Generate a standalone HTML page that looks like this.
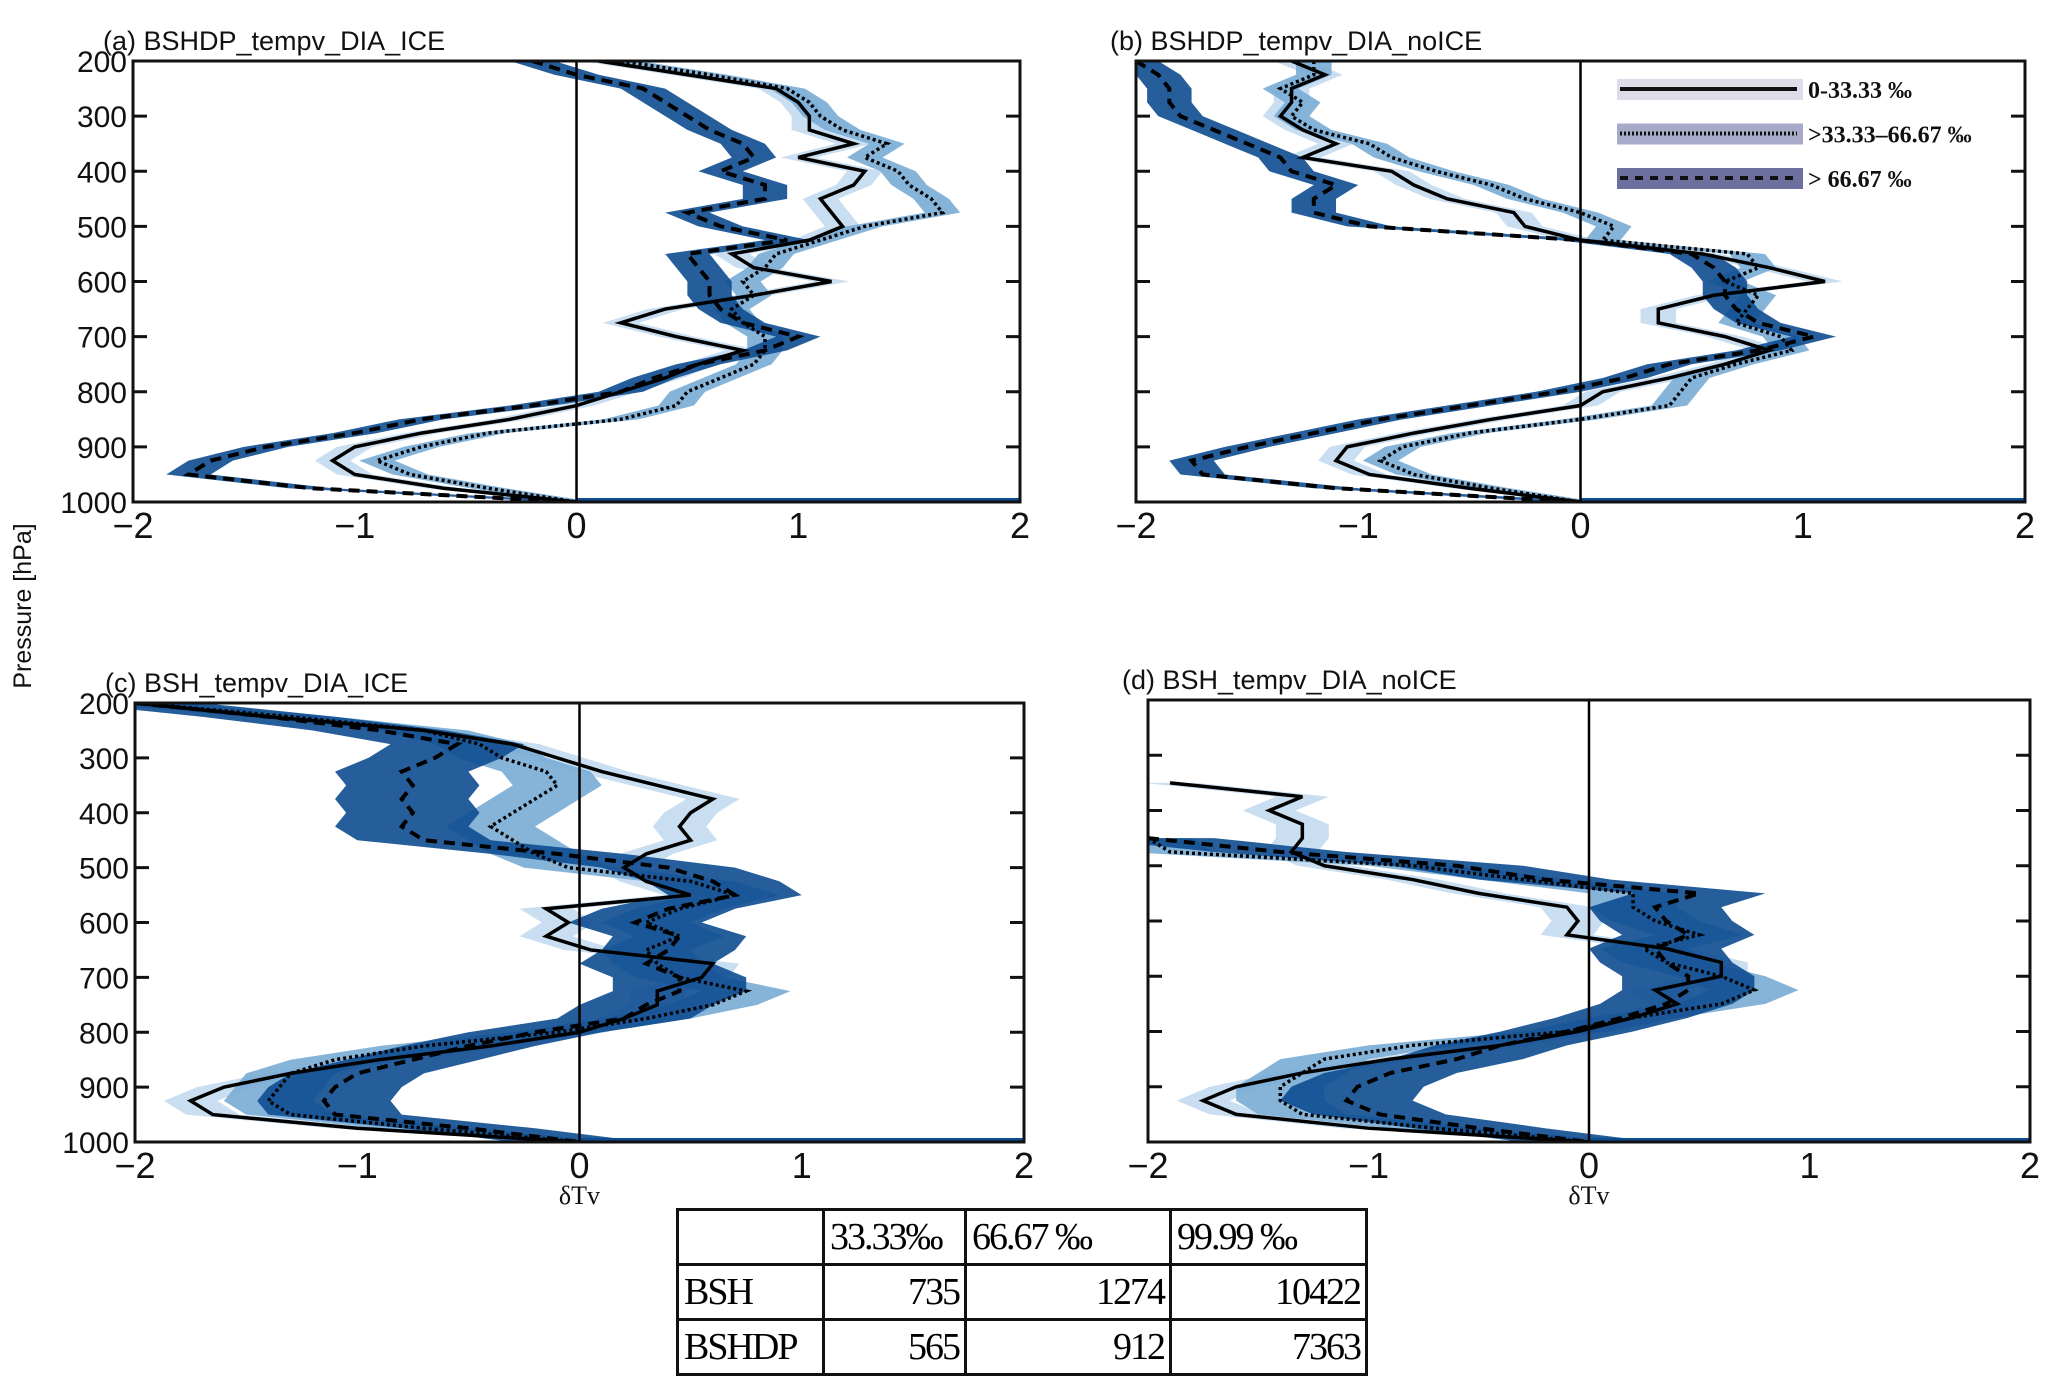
<!DOCTYPE html>
<html><head><meta charset="utf-8"><style>
body{margin:0;background:#fff;width:2067px;height:1389px;overflow:hidden;font-family:"Liberation Sans",sans-serif}
#tbl{position:absolute;left:676px;top:1208px;border-collapse:collapse;font-family:"Liberation Serif",serif;font-size:38px;table-layout:fixed;width:689px}
#tbl td{border:3px solid #111;height:52px;padding:0 5px;letter-spacing:-2px;overflow:hidden;white-space:nowrap}
</style></head><body>
<svg id="chart" width="2067" height="1389" style="position:absolute;left:0;top:0"></svg>
<table id="tbl">
<colgroup><col style="width:146px"><col style="width:142px"><col style="width:205px"><col style="width:196px"></colgroup>
<tr><td></td><td>33.33‰</td><td>66.67 ‰</td><td>99.99 ‰</td></tr>
<tr><td>BSH</td><td style="text-align:right">735</td><td style="text-align:right">1274</td><td style="text-align:right">10422</td></tr>
<tr><td>BSHDP</td><td style="text-align:right">565</td><td style="text-align:right">912</td><td style="text-align:right">7363</td></tr>
</table>
<script>
const pressure=[200,225,250,275,300,325,350,375,400,425,450,475,500,525,550,575,600,625,650,675,700,725,750,775,800,825,850,875,900,925,950,975,1000];
const xTicks=[-2,-1,0,1,2];
const yTicks=[200,300,400,500,600,700,800,900,1000];
const N=null;
const aSolid=[0.1,0.5,0.9,1.0,1.05,1.05,1.25,1.0,1.3,1.25,1.1,1.15,1.2,1.05,0.7,0.8,1.15,0.8,0.4,0.2,0.45,0.75,0.55,0.4,0.2,0.0,-0.3,-0.7,-1.0,-1.1,-1.0,-0.6,0];
const aDotted=[0.2,0.6,0.95,1.05,1.1,1.2,1.4,1.3,1.45,1.5,1.6,1.65,1.3,1.1,0.9,0.85,0.75,0.8,0.7,0.75,0.85,0.85,0.8,0.65,0.5,0.45,0.2,-0.4,-0.7,-0.9,-0.75,-0.4,0];
const aDashed=[-0.2,0.0,0.3,0.4,0.5,0.6,0.75,0.8,0.65,0.85,0.85,0.5,0.65,0.95,0.5,0.55,0.6,0.6,0.65,0.75,1.0,0.85,0.55,0.35,0.2,-0.2,-0.7,-1.0,-1.4,-1.65,-1.75,-1.2,0];
const bSolid=[-1.3,-1.15,-1.3,-1.3,-1.35,-1.25,-1.1,-1.25,-0.85,-0.75,-0.6,-0.3,-0.25,0.0,0.55,0.85,1.1,0.6,0.35,0.35,0.65,0.85,0.65,0.4,0.1,0.0,-0.4,-0.75,-1.05,-1.1,-0.95,-0.5,0];
const bDotted=[-1.2,-1.2,-1.35,-1.25,-1.3,-1.2,-0.95,-0.85,-0.65,-0.4,-0.25,0.0,0.15,0.1,0.75,0.8,0.65,0.8,0.75,0.7,0.9,0.95,0.7,0.5,0.45,0.4,0.0,-0.5,-0.8,-0.9,-0.75,-0.4,0];
const bDashed=[-2.0,-1.9,-1.85,-1.85,-1.8,-1.65,-1.5,-1.35,-1.3,-1.1,-1.2,-1.2,-0.95,0.0,0.5,0.6,0.65,0.65,0.7,0.8,1.05,0.8,0.4,0.2,-0.1,-0.5,-0.9,-1.2,-1.5,-1.75,-1.7,-1.1,0];
const cSolid=[-2.0,-1.4,-0.7,-0.3,-0.1,0.1,0.35,0.6,0.5,0.45,0.5,0.3,0.2,0.3,0.5,-0.15,-0.05,-0.15,0.05,0.6,0.55,0.35,0.35,0.2,0.0,-0.4,-0.9,-1.3,-1.6,-1.75,-1.65,-1.0,0];
const cDotted=[-2.0,-1.3,-0.7,-0.45,-0.35,-0.15,-0.1,-0.2,-0.3,-0.4,-0.3,-0.2,-0.05,0.5,0.7,0.45,0.3,0.45,0.3,0.35,0.45,0.75,0.6,0.3,-0.1,-0.7,-1.1,-1.3,-1.35,-1.4,-1.3,-0.7,0];
const cDashed=[-2.0,-1.4,-0.9,-0.55,-0.65,-0.8,-0.75,-0.8,-0.75,-0.8,-0.7,-0.1,0.4,0.6,0.7,0.4,0.25,0.45,0.4,0.3,0.45,0.45,0.3,0.2,-0.2,-0.5,-0.75,-1.0,-1.1,-1.15,-1.1,-0.5,0];
const dSolid=[N,N,N,N,N,N,-1.9,-1.3,-1.45,-1.3,-1.3,-1.35,-1.2,-0.8,-0.5,-0.1,-0.05,-0.1,0.35,0.6,0.6,0.3,0.4,0.2,-0.05,-0.4,-0.9,-1.3,-1.6,-1.75,-1.6,-1.0,0];
const dDotted=[N,N,N,N,N,N,N,N,N,N,-2.0,-1.9,-0.8,-0.3,0.2,0.2,0.3,0.5,0.25,0.35,0.6,0.75,0.6,0.2,-0.1,-0.8,-1.2,-1.3,-1.4,-1.4,-1.3,-0.7,0];
const dDashed=[N,N,N,N,N,N,N,N,N,N,-2.0,-1.4,-0.6,-0.2,0.5,0.3,0.35,0.45,0.3,0.35,0.45,0.45,0.35,0.15,-0.1,-0.4,-0.6,-0.9,-1.05,-1.1,-0.95,-0.5,0];
const bandSolid=[0.08,0.08,0.12,0.12];
const bandDotted=[0.08,0.08,0.2,0.2];
const bandDashed=[0.1,0.1,0.3,0.3];
const panelTitles=["(a) BSHDP_tempv_DIA_ICE","(b) BSHDP_tempv_DIA_noICE","(c) BSH_tempv_DIA_ICE","(d) BSH_tempv_DIA_noICE"];
const legendLabels=["0-33.33 ‰",">33.33–66.67 ‰","> 66.67 ‰"];

const svg=document.getElementById('chart');const NS='http://www.w3.org/2000/svg';
function mk(t,a,p){const e=document.createElementNS(NS,t);for(const k in a)e.setAttribute(k,a[k]);(p||svg).appendChild(e);return e;}
const boxes=[{x0:133,x1:1020,y0:61,y1:502},{x0:1136,x1:2025,y0:61,y1:502},{x0:135,x1:1024,y0:703,y1:1142},{x0:1148,x1:2030,y0:700,y1:1142}];
const series=[[aSolid,aDotted,aDashed],[bSolid,bDotted,bDashed],[cSolid,cDotted,cDashed],[dSolid,dDotted,dDashed]];
const bandColors=["#c3daee","#79acd5","#0e4c91"];
const dashes=["","3,3","11,7"];
const widths=[3.5,3.5,4];
boxes.forEach((b,i)=>{
  const sx=v=>b.x0+(v+2)/4*(b.x1-b.x0);
  const sy=p=>b.y0+(p-200)/800*(b.y1-b.y0);
  const g=mk('g',{});
  
  
  const cp=mk('clipPath',{id:'cp'+i},g);mk('rect',{x:b.x0,y:b.y0,width:b.x1-b.x0,height:b.y1-b.y0},cp);
  const t=mk('text',{x:b.x0-30+(i%2?4:0),y:b.y0-11,'font-size':27,fill:'#111'},g);t.textContent=panelTitles[i];
  
  const plot=mk('g',{'clip-path':'url(#cp'+i+')'},g);
  const bands=[bandSolid,bandDotted,bandDashed];
  [0,1,2].forEach(k=>{
    const arr=series[i][k];const w=bands[k][i];
    const L=[],R=[];
    arr.forEach((v,j)=>{if(v===null)return;L.push(sx(v-w)+','+sy(pressure[j]));R.unshift(sx(v+w)+','+sy(pressure[j]));});
    const bd=mk('polygon',{points:L.concat(R).join(' '),fill:bandColors[k],opacity:0.9},plot);
    
  });
  [0,1,2].forEach(k=>{
    const arr=series[i][k];const pts=[];
    arr.forEach((v,j)=>{if(v!==null)pts.push(sx(v)+','+sy(pressure[j]));});
    const ln=mk('polyline',{points:pts.join(' '),fill:'none',stroke:'#000','stroke-width':widths[k],'stroke-dasharray':dashes[k]},plot);
    
  });
  mk('line',{x1:sx(0),x2:sx(2),y1:b.y1-2,y2:b.y1-2,stroke:'#0e4c91','stroke-width':4},plot);
  const z=mk('line',{x1:sx(0),x2:sx(0),y1:b.y0,y2:b.y1,stroke:'#000','stroke-width':2.5},g);
  
  const fr=mk('rect',{x:b.x0,y:b.y0,width:b.x1-b.x0,height:b.y1-b.y0,fill:'none',stroke:'#111','stroke-width':3},g);
  
  yTicks.forEach(p=>{
    mk('line',{x1:b.x0,x2:b.x0+14,y1:sy(p),y2:sy(p),stroke:'#111','stroke-width':3},g);
    mk('line',{x1:b.x1-14,x2:b.x1,y1:sy(p),y2:sy(p),stroke:'#111','stroke-width':3},g);
    if(i%2==0){const tl=mk('text',{x:b.x0-6,y:sy(p)+11,'font-size':30,'text-anchor':'end',fill:'#111'},g);tl.textContent=p;
      }
  });
  xTicks.forEach(v=>{
    const tl=mk('text',{x:sx(v),y:b.y1+36,'font-size':36,'text-anchor':'middle',fill:'#111'},g);tl.textContent=(v<0?'\u2212':'')+Math.abs(v);
    
  });
  if(i>=2){const xl=mk('text',{x:sx(0),y:b.y1+62,'font-size':26,'text-anchor':'middle','font-family':'Liberation Serif, serif',fill:'#111'},g);xl.textContent='δTv';
    }
});
const yt=mk('text',{x:0,y:0,'font-size':25,'text-anchor':'middle',transform:'translate(31,606) rotate(-90)',fill:'#111'});
yt.textContent='Pressure [hPa]';

const legFill=["#dcdde9","#a8aac9","#6d6f9e"];
legendLabels.forEach((s,k)=>{
  const y0=79+k*44.5;
  const g=mk('g',{});
  
  mk('rect',{x:1617,y:y0,width:186,height:21,fill:legFill[k]},g);
  mk('line',{x1:1620,x2:1797,y1:y0+10,y2:y0+10,stroke:'#111','stroke-width':4,'stroke-dasharray':['','2,2','8,7'][k]},g);
  const t=mk('text',{x:1808,y:y0+19,'font-size':24,'font-weight':'bold','font-family':'Liberation Serif, serif',fill:'#111'},g);t.textContent=s;
});
</script>
</body></html>
